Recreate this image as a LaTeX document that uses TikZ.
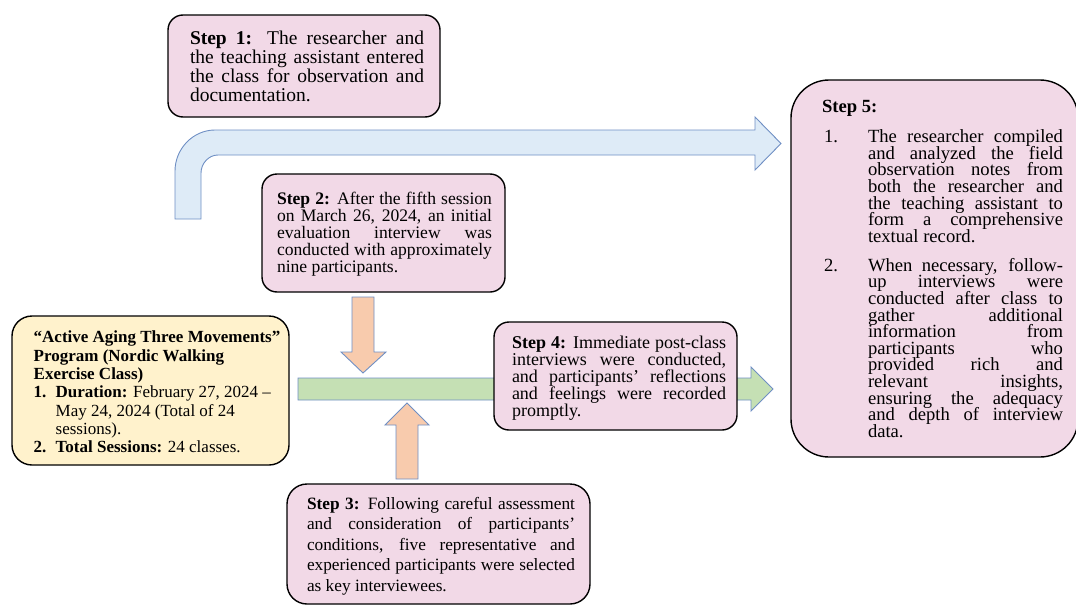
\documentclass[tikz,border=0pt]{standalone}
\usepackage{fontspec}
\setmainfont{Liberation Serif}

\definecolor{pinkfill}{HTML}{F2D9E7}
\definecolor{yellowfill}{HTML}{FFF2CC}
\definecolor{bluefill}{HTML}{DEEBF7}
\definecolor{greenfill}{HTML}{C5E0B4}
\definecolor{orangefill}{HTML}{F8CBAD}
\definecolor{shapeline}{HTML}{6F8FC4}

% a justified line, a ragged last line, and a paragraph block of given width
\newcommand\jl[1]{\hbox to \hsize{#1}}
\newcommand\lastl[1]{\hbox{#1}}
\newcommand\para[2]{\vbox{\hsize=#1\relax\lineskiplimit=-20pt\relax #2}}
% list lines for the step 5 box
\newcommand\itemfirst[2]{\hbox{\hbox to 46pt{\kern2pt #1\hfil}\hbox to 195pt{#2}}}
\newcommand\itemj[1]{\hbox{\hskip46pt\hbox to 195pt{#1}}}
\newcommand\iteml[1]{\hbox{\hskip46pt #1}}

\begin{document}
\begin{tikzpicture}[x=1pt, y=-1pt,
  stepbox/.style={draw=black, line width=1.4pt, fill=pinkfill, rectangle, rounded corners=15pt, inner sep=0pt},
  progbox/.style={draw=black, line width=1.4pt, fill=yellowfill, rectangle, rounded corners=20pt, inner sep=0pt},
  txt/.style={inner sep=0pt, text=black},
  blockarrow/.style={draw=shapeline, line width=0.9pt, line join=miter}
]
\useasboundingbox (0,0) rectangle (1076,605);

% bent arrow from step 1 towards step 5
\draw[blockarrow, fill=bluefill]
  (175,219) -- (175,171)
  .. controls (175,148.9) and (192.9,130) .. (215,130)
  -- (755,130) -- (755,117) -- (781,143.5) -- (755,170) -- (755,155)
  -- (218,155) .. controls (208.6,155) and (201,163.6) .. (201,173)
  -- (201,219) -- cycle;

% main timeline arrow
\draw[blockarrow, fill=greenfill]
  (298,378) -- (751,378) -- (751,367) -- (773,389) -- (751,411) -- (751,400) -- (298,400) -- cycle;

% arrow from step 2 down to the timeline
\draw[blockarrow, fill=orangefill]
  (352,297) -- (374,297) -- (374,352) -- (386,352) -- (363,373) -- (341,352) -- (352,352) -- cycle;

% arrow from step 3 up to the timeline
\draw[blockarrow, fill=orangefill]
  (396,479) -- (418,479) -- (418,425) -- (429,425) -- (407,403) -- (385,425) -- (396,425) -- cycle;

% boxes
\node[stepbox, minimum width=272pt, minimum height=102pt] (s1) at (304,66) {};
\node[stepbox, minimum width=243pt, minimum height=118pt] (s2) at (383.5,233) {};
\node[stepbox, minimum width=303pt, minimum height=120pt, rounded corners=20pt] (s3) at (438.5,544) {};
\node[stepbox, minimum width=243pt, minimum height=108pt] (s4) at (615.5,376) {};
\node[stepbox, minimum width=287pt, minimum height=377pt, rounded corners=38pt] (s5) at (934.5,268.5) {};
\node[progbox, minimum width=277pt, minimum height=149pt] (prog) at (150.5,390.5) {};

% texts
\node[txt, font={\fontsize{19.5}{19}\selectfont}] (s1t) at (307,66.5) {\para{234pt}{%
  \jl{\textbf{Step 1:} The researcher and}
  \jl{the teaching assistant entered}
  \jl{the class for observation and}
  \lastl{documentation.}}};

\node[txt, font={\fontsize{17.6}{17}\selectfont}] (s2t) at (384.5,234) {\para{215pt}{%
  \jl{\textbf{Step 2:} After the fifth session}
  \jl{on March 26, 2024, an initial}
  \jl{evaluation interview was}
  \jl{conducted with approximately}
  \lastl{nine participants.}}};

\node[txt, font={\fontsize{18}{17}\selectfont}] (s4t) at (619,378) {\para{214pt}{%
  \jl{\textbf{Step 4:} Immediate post-class}
  \jl{interviews were conducted,}
  \jl{and participants’ reflections}
  \jl{and feelings were recorded}
  \lastl{promptly.}}};

\node[txt, font={\fontsize{17.3}{20.5}\selectfont}] (s3t) at (441,546) {\para{268pt}{%
  \jl{\textbf{Step 3:} Following careful assessment}
  \jl{and consideration of participants’}
  \jl{conditions, five representative and}
  \jl{experienced participants were selected}
  \lastl{as key interviewees.}}};

\node[txt, font={\fontsize{17}{18.3}\selectfont}] (progt) at (157,392) {\para{250pt}{%
  \lastl{\textbf{“Active Aging Three Movements”}}
  \lastl{\textbf{Program (Nordic Walking}}
  \lastl{\textbf{Exercise Class)}}
  \lastl{\hbox to 22pt{\textbf{1.}\hfil}\textbf{Duration:} February 27, 2024 –}
  \lastl{\hskip22pt May 24, 2024 (Total of 24}
  \lastl{\hskip22pt sessions).}
  \lastl{\hbox to 22pt{\textbf{2.}\hfil}\textbf{Total Sessions:} 24 classes.}}};

\node[txt, font={\fontsize{18.6}{16.6}\selectfont}] (s5t) at (942.5,269) {\para{241pt}{%
  \lastl{\textbf{Step 5:}}
  \vskip13.4pt
  \itemfirst{1.}{The researcher compiled}
  \itemj{and analyzed the field}
  \itemj{observation notes from}
  \itemj{both the researcher and}
  \itemj{the teaching assistant to}
  \itemj{form a comprehensive}
  \iteml{textual record.}
  \vskip12.4pt
  \itemfirst{2.}{When necessary, follow-}
  \itemj{up interviews were}
  \itemj{conducted after class to}
  \itemj{gather additional}
  \itemj{information from}
  \itemj{participants who}
  \itemj{provided rich and}
  \itemj{relevant insights,}
  \itemj{ensuring the adequacy}
  \itemj{and depth of interview}
  \iteml{data.}}};
\end{tikzpicture}
\end{document}
